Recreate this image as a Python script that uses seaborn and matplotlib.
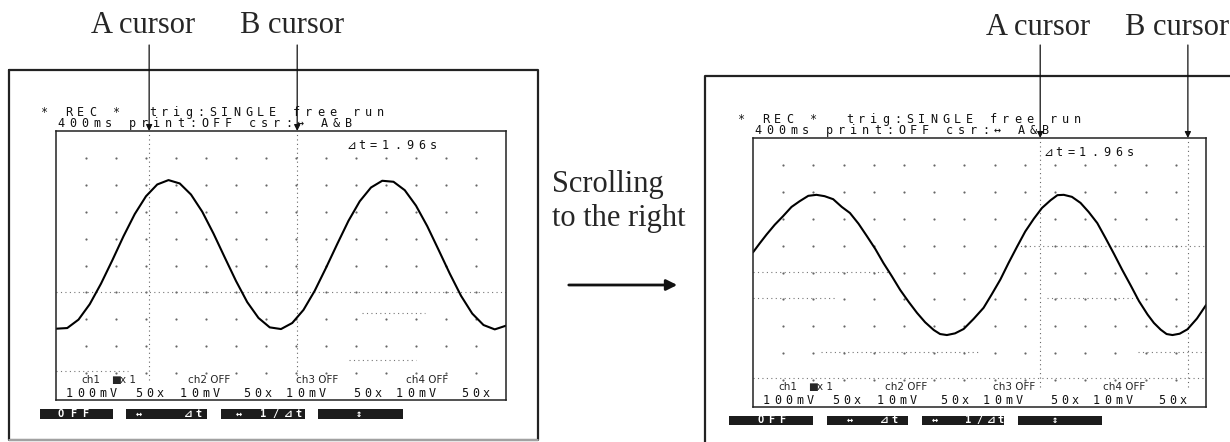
import numpy as np
import pandas as pd
import seaborn as sns
import matplotlib.pyplot as plt
from matplotlib.patches import Rectangle

# Waveform (x in divisions 0-10, y in divisions 0-8)
left_x = [0.0, 0.25, 0.5, 0.75, 1.0, 1.25, 1.5, 1.75, 2.0, 2.25, 2.5, 2.75, 3.0, 3.25,
          3.5, 3.75, 4.0, 4.25, 4.5, 4.75, 5.0, 5.25, 5.5, 5.75, 6.0, 6.25, 6.5, 6.75,
          7.0, 7.25, 7.5, 7.75, 8.0, 8.25, 8.5, 8.75, 9.0, 9.25, 9.5, 9.75, 10.0]
left_y = [2.12, 2.14, 2.39, 2.85, 3.46, 4.15, 4.87, 5.53, 6.06, 6.41, 6.54, 6.44, 6.11, 5.60,
          4.95, 4.24, 3.54, 2.91, 2.44, 2.16, 2.11, 2.29, 2.68, 3.25, 3.93, 4.64, 5.33, 5.91,
          6.32, 6.52, 6.49, 6.24, 5.78, 5.17, 4.47, 3.76, 3.10, 2.57, 2.23, 2.10, 2.21]

right_x = [0.0, 0.15, 0.30, 0.48, 0.66, 0.85, 1.03, 1.22, 1.40, 1.58, 1.77, 1.96, 2.14, 2.33,
           2.51, 2.70, 2.88, 3.06, 3.25, 3.44, 3.62, 3.80, 3.99, 4.13, 4.28, 4.46, 4.65, 4.87,
           5.09, 5.27, 5.46, 5.64, 5.83, 6.01, 6.20, 6.38, 6.57, 6.72, 6.86, 7.04, 7.23, 7.41,
           7.60, 7.78, 7.97, 8.15, 8.34, 8.52, 8.71, 8.85, 9.00, 9.13, 9.26, 9.42, 9.59, 9.80, 10.0]
right_y = [4.60, 4.87, 5.13, 5.42, 5.67, 5.95, 6.12, 6.28, 6.31, 6.27, 6.18, 5.95, 5.77, 5.45,
           5.09, 4.70, 4.28, 3.90, 3.48, 3.12, 2.80, 2.52, 2.29, 2.17, 2.14, 2.19, 2.32, 2.62,
           2.95, 3.35, 3.79, 4.28, 4.77, 5.22, 5.60, 5.92, 6.15, 6.30, 6.31, 6.25, 6.07, 5.80,
           5.47, 5.03, 4.55, 4.08, 3.61, 3.15, 2.75, 2.50, 2.30, 2.17, 2.14, 2.18, 2.31, 2.63, 3.03]

# cursor positions (divisions) for each screen
cursor_a = [2.07, 6.34]
cursor_b = [5.36, 9.60]

# screen texts
header_1 = "* REC *  trig:SINGLE free run"
header_2 = "  400ms print:OFF csr:\u2194 A&B"
delta_t = "\u22bft=1.96s"
ch_labels = ["ch1", "\u25a0", "x 1", "ch2 OFF", "ch3 OFF", "ch4 OFF"]
ch_scales = ["100mV", "50x", "10mV", "50x", "10mV", "50x", "10mV", "50x"]
button_labels_left = ["OFF", "\u2194   \u22bft", "\u2194 1/\u22bft", "\u2195"]
button_labels_right = ["OFF", "\u2194  \u22bft", "\u2194  1/\u22bft", "\u2195"]

sns.set_theme(style='white')
plt.rcParams['font.family'] = ['DejaVu Sans Mono', 'DejaVu Sans']

W, H = 1230, 442
fig = plt.figure(figsize=(12.3, 4.42), dpi=100)
fig.patch.set_facecolor('white')

# pixel-space overlay for frames, labels and on-screen text
over = fig.add_axes([0, 0, 1, 1])
over.set_xlim(0, W)
over.set_ylim(H, 0)
over.axis('off')

serif = ['Liberation Serif', 'DejaVu Serif']
mono = ['DejaVu Sans Mono', 'DejaVu Sans']


def px_rect(x0, y0, x1, y1):
    return [x0 / W, 1 - y1 / H, (x1 - x0) / W, (y1 - y0) / H]


def spaced(x0, y, s, pitch=12, size=8.5, color='#111'):
    for i, ch in enumerate(s):
        if ch != ' ':
            over.text(x0 + i * pitch, y, ch, fontsize=size, color=color,
                      ha='left', va='baseline', family=mono)


# outer photo frames
over.plot([9, 538, 538, 9, 9], [70, 70, 440, 440, 70], color='#222', lw=1.6)
over.plot([9, 538], [440, 440], color='#bbb', lw=1.2)
over.plot([705, 705, 1232], [443, 76, 76], color='#222', lw=1.6)

# captions
over.text(91, 33, "A cursor", fontsize=22, family=serif, va='baseline')
over.text(240, 33, "B cursor", fontsize=22, family=serif, va='baseline')
over.text(986, 35, "A cursor", fontsize=22, family=serif, va='baseline')
over.text(1125, 35, "B cursor", fontsize=22, family=serif, va='baseline')
over.text(552, 192, "Scrolling", fontsize=22, family=serif, va='baseline')
over.text(552, 226, "to the right", fontsize=22, family=serif, va='baseline')
over.annotate("", xy=(680, 285), xytext=(566, 285),
              arrowprops=dict(arrowstyle='-|>', lw=2, color='#111', mutation_scale=16))

panels = [
    dict(box=(56, 131, 506, 400), wx=left_x, wy=left_y, ca=cursor_a[0], cb=cursor_b[0],
         buttons=[(40, 113), (126, 207), (221, 305), (318, 403)], by=(409, 419),
         blabels=button_labels_left, bx=[58, 136, 236, 356], bpitch=12,
         dots=[(3.2, 0, 10), (0.85, 0, 1.6), (2.6, 6.8, 8.2), (1.2, 6.5, 8.0)]),
    dict(box=(753, 138, 1206, 407), wx=right_x, wy=right_y, ca=cursor_a[1], cb=cursor_b[1],
         buttons=[(729, 813), (827, 908), (922, 1004), (1018, 1102)], by=(416, 425),
         blabels=button_labels_right, bx=[757, 847, 932, 1052], bpitch=11,
         dots=[(4.8, 5.8, 10), (4.02, 0, 3.0), (3.23, 0, 1.8), (3.23, 6.5, 8.5),
               (1.64, 1.5, 5.0), (1.64, 8.5, 10), (0.85, 0, 10)]),
]

for p in panels:
    x0, y0, x1, y1 = p['box']
    ax = fig.add_axes(px_rect(x0, y0, x1, y1))
    ax.set_facecolor('none')
    ax.set_xlim(0, 10)
    ax.set_ylim(0, 8)
    ax.set_xticks([])
    ax.set_yticks([])
    for s in ax.spines.values():
        s.set_color('#222')
        s.set_linewidth(1.1)

    # dotted graticule
    gx, gy = np.meshgrid(np.linspace(0, 10, 16)[1:-1], np.linspace(0, 8, 11)[1:-1])
    ax.scatter(gx.ravel(), gy.ravel(), s=2.5, color='#666', lw=0)
    for yy, xa, xb in p['dots']:
        ax.plot([xa, xb], [yy, yy], color='#777', lw=0.8, ls=(0, (1, 3)))

    # cursors
    for cx in (p['ca'], p['cb']):
        ax.plot([cx, cx], [0.6, 8], color='#666', lw=0.8, ls=(0, (1, 3)))
        ax.annotate("", xy=(cx, 1.0), xycoords=('data', 'axes fraction'),
                    xytext=(cx, 1.0 + (y0 - 45) / (y1 - y0)), textcoords=('data', 'axes fraction'),
                    arrowprops=dict(arrowstyle='-|>', lw=0.9, color='#111', mutation_scale=9,
                                    shrinkA=0, shrinkB=0))

    sns.lineplot(x=p['wx'], y=p['wy'], ax=ax, color='black', lw=1.5, sort=False, estimator=None)

    # header text above the screen
    spaced(x0 - 15, y0 - 15, header_1)
    spaced(x0 - 23, y0 - 4, header_2)
    spaced(x0 + 290, y0 + 18, delta_t)

    # channel rows at the bottom of the screen
    for lab, dx in zip(ch_labels, [25, 55, 64, 132, 240, 350]):
        over.text(x0 + dx, y1 - 20, lab, fontsize=7.5, family=['DejaVu Sans', 'DejaVu Sans Mono'],
                  va='center', ha='left')
    for lab, dx in zip(ch_scales, [10, 79, 124, 187, 230, 297, 340, 405]):
        spaced(x0 + dx, y1 - 3, lab, pitch=11)

    # soft-key buttons
    ba, bb = p['by']
    for (bx0, bx1), lab, tx in zip(p['buttons'], p['blabels'], p['bx']):
        over.add_patch(Rectangle((bx0, ba), bx1 - bx0, bb - ba, color='#1c1c1c', lw=0))
        for i, ch in enumerate(lab):
            if ch != ' ':
                over.text(tx + i * p['bpitch'], bb - 2, ch, fontsize=7.5, color='white',
                          fontweight='bold', family=mono, va='baseline')

fig.savefig('out.png', dpi=100, facecolor='white')
